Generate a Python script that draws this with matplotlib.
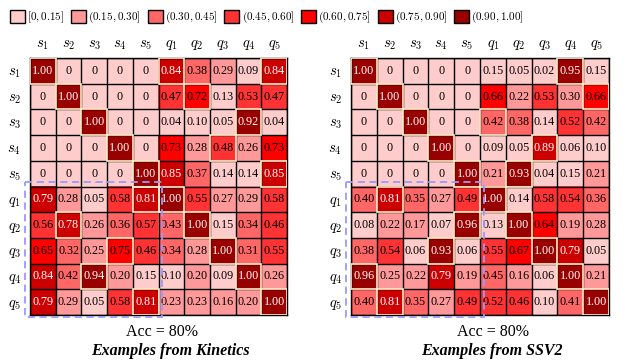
import matplotlib
matplotlib.use('Agg')
import matplotlib.pyplot as plt
import numpy as np
from matplotlib.colors import ListedColormap
from matplotlib.patches import Rectangle, Patch

plt.rcParams['font.family'] = ['Liberation Serif', 'DejaVu Serif']
plt.rcParams['mathtext.fontset'] = 'cm'

labels = ['$s_1$', '$s_2$', '$s_3$', '$s_4$', '$s_5$',
          '$q_1$', '$q_2$', '$q_3$', '$q_4$', '$q_5$']

bin_edges = [0, 0.15, 0.30, 0.45, 0.60, 0.75, 0.90, 1.00]
bin_colors = ['#FFCCCC', '#FF9999', '#FF6666', '#FF3333', '#FF0000', '#CC0000', '#990000']
bin_labels = ['$[0, 0.15]$', '$(0.15, 0.30]$', '$(0.30, 0.45]$', '$(0.45, 0.60]$',
              '$(0.60, 0.75]$', '$(0.75, 0.90]$', '$(0.90, 1.00]$']

kinetics = np.array([
    [1.00, 0, 0, 0, 0, 0.84, 0.38, 0.29, 0.09, 0.84],
    [0, 1.00, 0, 0, 0, 0.47, 0.72, 0.13, 0.53, 0.47],
    [0, 0, 1.00, 0, 0, 0.04, 0.10, 0.05, 0.92, 0.04],
    [0, 0, 0, 1.00, 0, 0.73, 0.28, 0.48, 0.26, 0.73],
    [0, 0, 0, 0, 1.00, 0.85, 0.37, 0.14, 0.14, 0.85],
    [0.79, 0.28, 0.05, 0.58, 0.81, 1.00, 0.55, 0.27, 0.29, 0.58],
    [0.56, 0.78, 0.26, 0.36, 0.57, 0.43, 1.00, 0.15, 0.34, 0.46],
    [0.65, 0.32, 0.25, 0.75, 0.46, 0.34, 0.28, 1.00, 0.31, 0.55],
    [0.84, 0.42, 0.94, 0.20, 0.15, 0.10, 0.20, 0.09, 1.00, 0.26],
    [0.79, 0.29, 0.05, 0.58, 0.81, 0.23, 0.23, 0.16, 0.20, 1.00],
])

ssv2 = np.array([
    [1.00, 0, 0, 0, 0, 0.15, 0.05, 0.02, 0.95, 0.15],
    [0, 1.00, 0, 0, 0, 0.66, 0.22, 0.53, 0.30, 0.66],
    [0, 0, 1.00, 0, 0, 0.42, 0.38, 0.14, 0.52, 0.42],
    [0, 0, 0, 1.00, 0, 0.09, 0.05, 0.89, 0.06, 0.10],
    [0, 0, 0, 0, 1.00, 0.21, 0.93, 0.04, 0.15, 0.21],
    [0.40, 0.81, 0.35, 0.27, 0.49, 1.00, 0.14, 0.58, 0.54, 0.36],
    [0.08, 0.22, 0.17, 0.07, 0.96, 0.13, 1.00, 0.64, 0.19, 0.28],
    [0.38, 0.54, 0.06, 0.93, 0.06, 0.55, 0.67, 1.00, 0.79, 0.05],
    [0.96, 0.25, 0.22, 0.79, 0.19, 0.45, 0.16, 0.06, 1.00, 0.21],
    [0.40, 0.81, 0.35, 0.27, 0.49, 0.52, 0.46, 0.10, 0.41, 1.00],
])

# highlighted (row, col) cells, diagonal added below
kinetics_marked = [(0, 5), (0, 9), (1, 6), (2, 8), (3, 7), (4, 9),
                   (5, 4), (6, 1), (7, 3), (8, 2), (9, 4)]
ssv2_marked = [(0, 8), (1, 9), (2, 5), (3, 7), (4, 6),
               (5, 1), (6, 4), (7, 3), (8, 0), (9, 1)]


def draw(ax, m, marked):
    n = m.shape[0]
    idx = np.digitize(m, bin_edges[1:-1], right=True)
    ax.imshow(idx, cmap=ListedColormap(bin_colors), vmin=-0.5, vmax=6.5, aspect='auto')
    for k in range(n + 1):
        ax.axhline(k - 0.5, color='black', lw=1)
        ax.axvline(k - 0.5, color='black', lw=1)
    for i, j in marked + [(k, k) for k in range(n)]:
        ax.add_patch(Rectangle((j - 0.5, i - 0.5), 1, 1, fill=False,
                               ec='#FFEEC8', lw=1.2, zorder=3))
    for i in range(n):
        for j in range(n):
            v = m[i, j]
            s = '0' if v == 0 else f'{v:.2f}'
            ax.text(j, i, s, ha='center', va='center', fontsize=8.7,
                    color='white' if v > 0.75 else 'black', zorder=4)
    ax.add_patch(Rectangle((-0.69, 4.34), 5.34, 5.23, fill=False, ec='#9999FF',
                           lw=1.3, ls=(0, (4, 2.5)), clip_on=False, zorder=5))
    ax.xaxis.tick_top()
    ax.set_xticks(range(n), labels)
    ax.set_yticks(range(n), labels)
    ax.tick_params(axis='x', length=0, labelsize=10.5, pad=4)
    ax.tick_params(axis='y', length=0, labelsize=10.5, pad=6.5)
    for sp in ax.spines.values():
        sp.set_linewidth(1)


fig = plt.figure(figsize=(6.25, 3.6), dpi=100)

ax1 = fig.add_axes([30 / 625, 1 - 315 / 360, 257 / 625, 257 / 360])
draw(ax1, kinetics, kinetics_marked)
ax2 = fig.add_axes([351 / 625, 1 - 315 / 360, 258 / 625, 257 / 360])
draw(ax2, ssv2, ssv2_marked)

fig.text(162 / 625, 1 - 332 / 360, 'Acc = 80%', ha='center', va='center', fontsize=11.5)
fig.text(170 / 625, 1 - 351 / 360, 'Examples from Kinetics', ha='center', va='center',
         fontsize=11.5, fontweight='bold', fontstyle='italic')
fig.text(493 / 625, 1 - 332 / 360, 'Acc = 80%', ha='center', va='center', fontsize=11.5)
fig.text(492 / 625, 1 - 351 / 360, 'Examples from SSV2', ha='center', va='center',
         fontsize=11.5, fontweight='bold', fontstyle='italic')

handles = [Patch(facecolor=c, edgecolor='black', lw=1) for c in bin_colors]
fig.legend(handles, bin_labels, loc='center left', bbox_to_anchor=(10 / 625, 1 - 17 / 360),
           ncol=7, frameon=False, fontsize=8, handlelength=1.35, handleheight=1.45,
           handletextpad=0.2, columnspacing=0.6, borderpad=0, borderaxespad=0)

fig.savefig('out.png', dpi=100)
